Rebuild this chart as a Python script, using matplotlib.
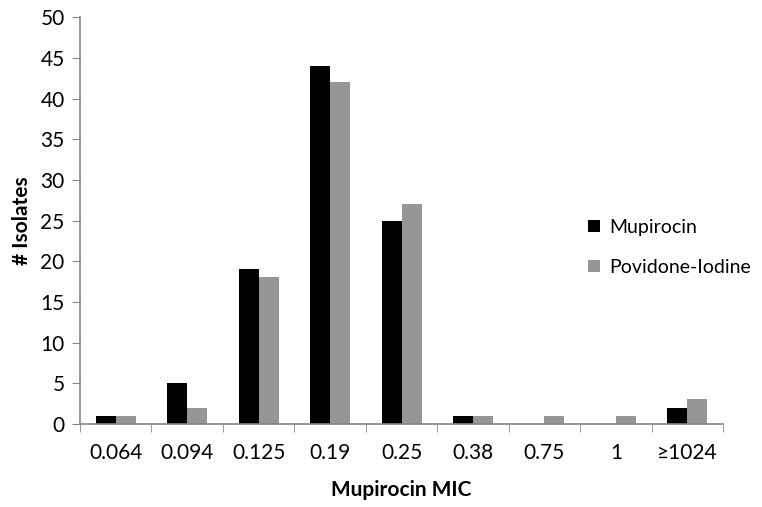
import numpy as np
import matplotlib
matplotlib.use('Agg')
from matplotlib import pyplot as plt

categories = ['0.064', '0.094', '0.125', '0.19', '0.25', '0.38', '0.75', '1', '\u22651024']
mupirocin = [1, 5, 19, 44, 25, 1, 0, 0, 2]
povidone = [1, 2, 18, 42, 27, 1, 1, 1, 3]
y_ticks = list(range(0, 55, 5))

plt.rcParams['font.family'] = ['Lato', 'DejaVu Sans']
plt.rcParams['font.size'] = 15

axis_grey = '#868686'

fig = plt.figure(figsize=(7.62, 5.07), dpi=100)
ax = fig.add_axes([0.105, 0.164, 0.844, 0.802])

x = np.arange(len(categories))
w = 0.28
ax.bar(x - w / 2, mupirocin, w, color='black', label='Mupirocin')
ax.bar(x + w / 2, povidone, w, color='#969696', label='Povidone-Iodine')

ax.set_xlim(-0.5, len(categories) - 0.5)
ax.set_ylim(0, 50)
ax.set_yticks(y_ticks)
ax.set_xticks(x)
ax.set_xticklabels(categories)
# category boundary ticks
ax.set_xticks(np.arange(-0.5, len(categories)), minor=True)
ax.tick_params(axis='x', which='major', length=0, pad=14)
ax.tick_params(axis='x', which='minor', length=6, color=axis_grey, direction='out')
ax.tick_params(axis='y', length=6, color=axis_grey, direction='out', pad=5)

for s in ['top', 'right']:
    ax.spines[s].set_visible(False)
for s in ['left', 'bottom']:
    ax.spines[s].set_color(axis_grey)
    ax.spines[s].set_linewidth(1.2)

ax.set_xlabel('Mupirocin MIC', fontweight='bold', labelpad=12)
ax.set_ylabel('# Isolates', fontweight='bold', labelpad=6)

ax.legend(loc='center left', bbox_to_anchor=(0.79, 0.434), frameon=False,
          fontsize=14, borderpad=0, borderaxespad=0,
          handlelength=0.6, handleheight=0.6, labelspacing=1.2, handletextpad=0.5)

fig.savefig('out.png', dpi=100)
